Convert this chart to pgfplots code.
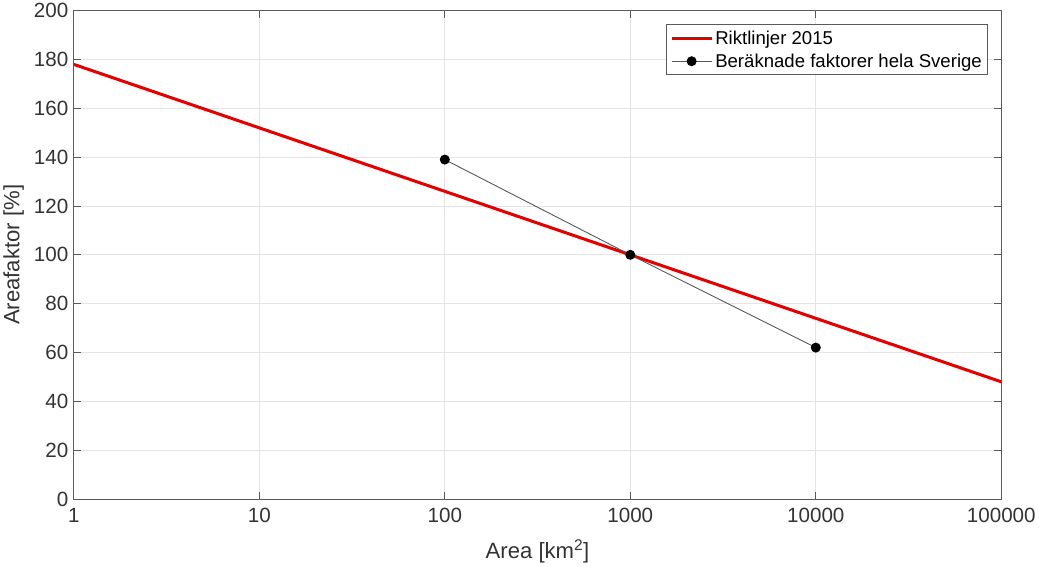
\documentclass[border=0pt]{standalone}
\usepackage{pgfplots}
\pgfplotsset{compat=1.18}
\usepackage{fontspec}
\setmainfont{Liberation Sans}

\definecolor{gridgray}{RGB}{228,228,228}
\definecolor{axgray}{RGB}{90,90,90}

\begin{document}
\begin{tikzpicture}
\begin{semilogxaxis}[
    scale only axis,
    width=923pt, height=486pt,
    xmin=1, xmax=100000,
    ymin=0, ymax=200,
    xtick={1,10,100,1000,10000,100000},
    xticklabels={1,10,100,1000,10000,100000},
    ytick={0,20,...,200},
    minor xtick={},
    grid=major,
    major grid style={gridgray, line width=0.8pt},
    axis line style={axgray, line width=0.9pt},
    tick style={axgray, line width=0.9pt},
    tick align=inside,
    major tick length=7pt,
    minor tick length=0pt,
    tick label style={font=\fontsize{20.5}{24}\selectfont, text=black!80},
    xticklabel style={yshift=-6pt},
    yticklabel style={xshift=-2pt},
    /pgf/number format/assume math mode=true,
    xlabel={Area [km\textsuperscript{2}]},
    ylabel={Areafaktor [\%]},
    label style={font=\fontsize{22}{26}\selectfont, text=black!80},
    xlabel style={yshift=-10pt},
    ylabel style={yshift=3pt},
    legend style={at={(rel axis cs:0.986,0.972)}, anchor=north east,
        draw=axgray, line width=0.8pt, fill=white,
        font=\fontsize{18.5}{22}\selectfont, inner sep=4pt,
        row sep=4pt},
    legend cell align=left,
    legend image code/.code={%
        \draw[mark repeat=2, mark phase=2]
            plot coordinates {(0pt,0pt) (20pt,0pt) (40pt,0pt)};},
]
\addplot[color=red!90!black, line width=3pt] coordinates {
    (1,178) (100000,48)
};
\addlegendentry{Riktlinjer 2015}
\addplot[color=black!65, line width=0.9pt, mark=*, mark size=4.5pt,
    mark options={fill=black, draw=black}] coordinates {
    (100,139) (1000,100) (10000,62)
};
\addlegendentry{Beräknade faktorer hela Sverige}
\end{semilogxaxis}
\end{tikzpicture}
\end{document}
